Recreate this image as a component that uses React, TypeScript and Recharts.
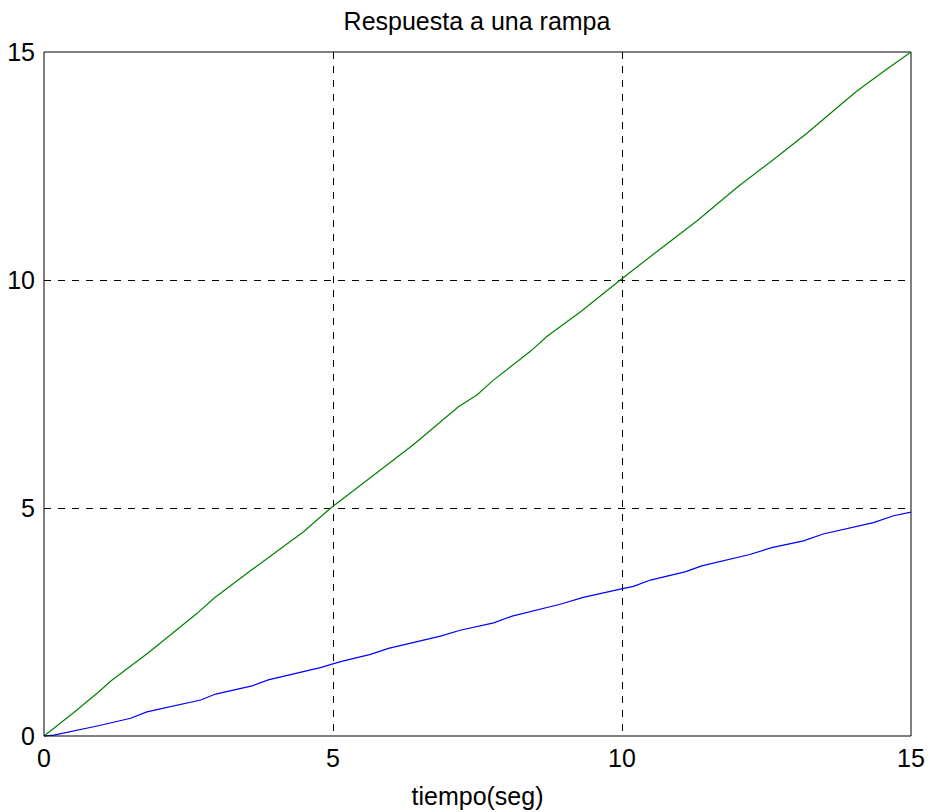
import { LineChart, Line, XAxis, YAxis, CartesianGrid, ReferenceLine } from 'recharts';

// values (tiempo in seg)
const greenTime = [0, 0.5, 0.95, 1.15, 1.8, 2.65, 2.94, 3.6, 4.49, 4.95, 5.6, 6.4, 7.17, 7.49, 7.78, 8.41, 8.7, 9.3, 9.97, 10.6, 11.3, 12.01, 12.6, 13.2, 13.74, 14.06, 14.5, 15];
const greenValue = [0, 0.5, 0.97, 1.2, 1.82, 2.69, 3.02, 3.65, 4.48, 4.99, 5.62, 6.4, 7.22, 7.48, 7.81, 8.43, 8.76, 9.32, 10.0, 10.62, 11.3, 12.05, 12.62, 13.22, 13.8, 14.14, 14.55, 15];

const blueTime = [0, 0.17, 0.92, 1.5, 1.78, 2.71, 2.97, 3.6, 3.88, 4.78, 5.13, 5.65, 5.96, 6.86, 7.2, 7.78, 8.1, 8.93, 9.33, 9.97, 10.2, 10.49, 11.09, 11.38, 12.21, 12.59, 13.14, 13.48, 14.35, 14.7, 15];
const blueValue = [0, 0.02, 0.22, 0.39, 0.53, 0.79, 0.92, 1.1, 1.23, 1.5, 1.63, 1.79, 1.92, 2.19, 2.32, 2.48, 2.63, 2.89, 3.04, 3.22, 3.28, 3.42, 3.6, 3.73, 3.98, 4.13, 4.28, 4.43, 4.68, 4.83, 4.91];

const ticks = [0, 5, 10, 15];

const greenData = greenTime.map((t, i) => ({ t, v: greenValue[i] }));
const blueData = blueTime.map((t, i) => ({ t, v: blueValue[i] }));

const font = 'Arial, "Liberation Sans", sans-serif';
const tickStyle = { fill: '#000', fontSize: 25, fontFamily: font };

export default function App() {
  return (
    <div style={{ position: 'absolute', left: 0, top: 0, width: 932, height: 812, background: '#fff' }}>
      <div
        style={{
          position: 'absolute',
          left: 0,
          top: 7,
          width: 954,
          textAlign: 'center',
          fontFamily: font,
          fontSize: 25,
          color: '#000',
        }}
      >
        Respuesta a una rampa
      </div>
      <LineChart width={932} height={812} margin={{ top: 52, right: 21, left: 0, bottom: 0 }}>
        <CartesianGrid
          stroke="#000"
          strokeDasharray="7 7"
          shapeRendering="crispEdges"
          horizontalValues={[5, 10]}
          verticalValues={[5, 10]}
        />
        <XAxis
          dataKey="t"
          type="number"
          domain={[0, 15]}
          ticks={ticks}
          allowDuplicatedCategory={false}
          height={76}
          tickSize={0}
          tickMargin={13}
          tick={tickStyle}
          axisLine={{ stroke: '#000' }}
          label={{ value: 'tiempo(seg)', position: 'insideBottom', offset: 7, fill: '#000', fontSize: 25, fontFamily: font }}
        />
        <YAxis
          dataKey="v"
          type="number"
          domain={[0, 15]}
          ticks={ticks}
          width={44}
          tickSize={0}
          tickMargin={9}
          tick={tickStyle}
          axisLine={{ stroke: '#000' }}
        />
        <ReferenceLine y={15} stroke="#000" />
        <ReferenceLine x={15} stroke="#000" />
        <Line data={greenData} dataKey="v" stroke="#008000" strokeWidth={1.2} dot={false} isAnimationActive={false} />
        <Line data={blueData} dataKey="v" stroke="#0000ff" strokeWidth={1.2} dot={false} isAnimationActive={false} />
      </LineChart>
    </div>
  );
}
